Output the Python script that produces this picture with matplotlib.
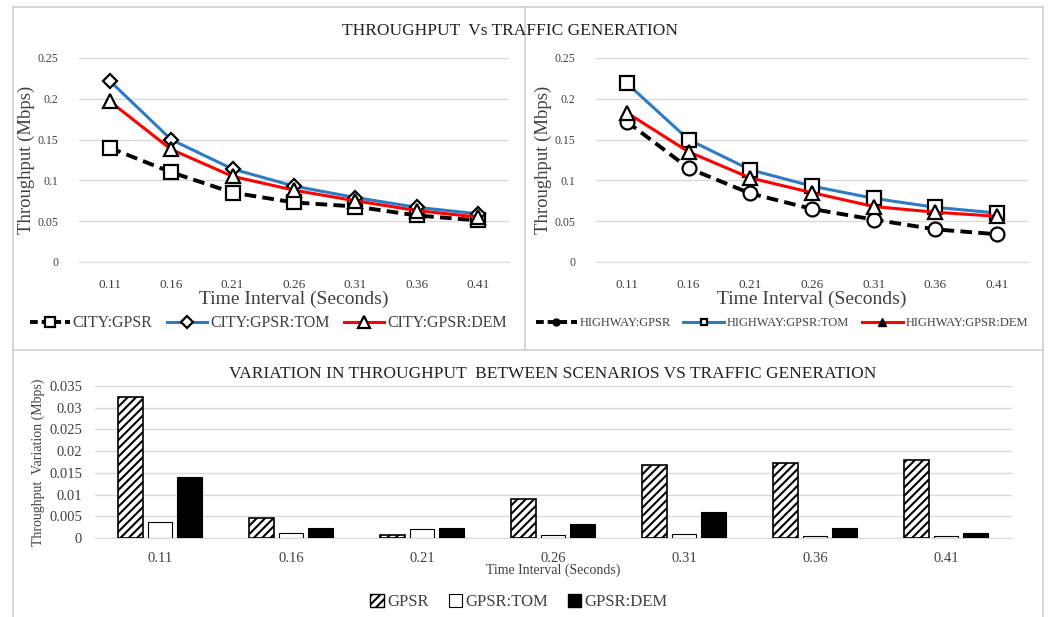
import matplotlib.pyplot as plt
import numpy as np
from matplotlib.lines import Line2D
from matplotlib.patches import Patch

plt.rcParams["font.family"] = ["Liberation Serif", "DejaVu Serif"]
plt.rcParams["hatch.linewidth"] = 1.5

intervals = ["0.11", "0.16", "0.21", "0.26", "0.31", "0.36", "0.41"]

city_gpsr = [0.140, 0.110, 0.085, 0.073, 0.068, 0.057, 0.051]
city_tom = [0.222, 0.150, 0.114, 0.093, 0.079, 0.067, 0.059]
city_dem = [0.197, 0.138, 0.105, 0.088, 0.075, 0.063, 0.055]

hw_gpsr = [0.172, 0.115, 0.084, 0.065, 0.052, 0.040, 0.034]
hw_tom = [0.219, 0.150, 0.113, 0.093, 0.078, 0.067, 0.060]
hw_dem = [0.183, 0.135, 0.103, 0.085, 0.068, 0.061, 0.056]

var_gpsr = [0.0325, 0.0045, 0.0008, 0.0090, 0.0169, 0.0172, 0.0179]
var_tom = [0.0037, 0.0012, 0.0020, 0.0007, 0.0010, 0.0004, 0.0004]
var_dem = [0.0140, 0.0024, 0.0022, 0.0032, 0.0060, 0.0024, 0.0012]

BLUE = "#2e7bc4"
RED = "#ff0000"
GRID = "#d9d9d9"
TXT = "#404040"

fig = plt.figure(figsize=(10.51, 6.17), dpi=100)

# panel frames
frame = dict(color="#d0d0d0", lw=1.2, transform=fig.transFigure)
fig.add_artist(Line2D([13 / 1051, 13 / 1051], [0, 1 - 7 / 617], **frame))
fig.add_artist(Line2D([1043 / 1051, 1043 / 1051], [0, 1 - 7 / 617], **frame))
fig.add_artist(Line2D([13 / 1051, 1043 / 1051], [1 - 7 / 617, 1 - 7 / 617], **frame))
fig.add_artist(Line2D([13 / 1051, 1043 / 1051], [1 - 350 / 617, 1 - 350 / 617], **frame))
fig.add_artist(Line2D([525 / 1051, 525 / 1051], [1 - 350 / 617, 1 - 7 / 617], **frame))

fig.text(510 / 1051, 1 - 31 / 617, "THROUGHPUT  Vs TRAFFIC GENERATION",
         ha="center", va="center", fontsize=12.5, color="#222222")

x = np.arange(len(intervals))


def style_line_axes(ax):
    ax.set_xlim(-0.5, len(intervals) - 0.5)
    ax.set_ylim(0, 0.25)
    ax.set_yticks([0, 0.05, 0.1, 0.15, 0.2, 0.25])
    ax.set_yticklabels(["0", "0.05", "0.1", "0.15", "0.2", "0.25"])
    ax.set_xticks(x)
    ax.set_xticklabels(intervals)
    ax.grid(axis="y", color=GRID, lw=1)
    ax.set_axisbelow(True)
    for s in ["top", "right", "left"]:
        ax.spines[s].set_visible(False)
    ax.spines["bottom"].set_color(GRID)
    ax.tick_params(axis="y", length=0, labelsize=8.5, colors=TXT, pad=15)
    ax.tick_params(axis="x", length=0, labelsize=9.5, colors=TXT, pad=12)
    ax.set_ylabel("Throughput (Mbps)", fontsize=13.5, color=TXT)
    ax.yaxis.set_label_coords(-0.102, 0.5)
    ax.set_xlabel("Time Interval (Seconds)", fontsize=14, color=TXT, labelpad=0)


mk = dict(markerfacecolor="white", markeredgecolor="black", markeredgewidth=1.6)

# city panel
ax1 = fig.add_axes([79 / 1051, 1 - 262 / 617, 430 / 1051, 204 / 617])
ax1.plot(x, city_gpsr, color="black", lw=2.8, ls=(0, (3, 1.6)), marker="s", ms=10, **mk, zorder=3)
ax1.plot(x, city_tom, color=BLUE, lw=2.2, marker="D", ms=7.5, **mk, zorder=4)
ax1.plot(x, city_dem, color=RED, lw=2.2, marker="^", ms=10, **mk, zorder=4)
style_line_axes(ax1)
h1 = [
    Line2D([], [], color="black", lw=2.8, ls=(0, (2, 1)), marker="s", ms=7, **mk),
    Line2D([], [], color=BLUE, lw=2.2, marker="D", ms=6, **mk),
    Line2D([], [], color=RED, lw=2.2, marker="^", ms=8, **mk),
]
ax1.legend(h1, ["CITY:GPSR", "CITY:GPSR:TOM", "CITY:GPSR:DEM"], loc="center",
           bbox_to_anchor=(0.44, -0.30), ncol=3, frameon=False, fontsize=11.5,
           handlelength=2.5, handletextpad=0.2, columnspacing=0.9,
           labelcolor=TXT)

# highway panel
ax2 = fig.add_axes([596 / 1051, 1 - 262 / 617, 432 / 1051, 204 / 617])
ax2.plot(x, hw_gpsr, color="black", lw=2.8, ls=(0, (3, 1.6)), marker="o", ms=10, **mk, zorder=3)
ax2.plot(x, hw_tom, color=BLUE, lw=2.2, marker="s", ms=10, **mk, zorder=4)
ax2.plot(x, hw_dem, color=RED, lw=2.2, marker="^", ms=10, **mk, zorder=4)
style_line_axes(ax2)
h2 = [
    Line2D([], [], color="black", lw=2.8, ls=(0, (2, 1)), marker="o", ms=5, markerfacecolor="black", markeredgecolor="black"),
    Line2D([], [], color=BLUE, lw=2.2, marker="s", ms=5, **mk),
    Line2D([], [], color=RED, lw=2.2, marker="^", ms=6, markerfacecolor="black", markeredgecolor="black"),
]
ax2.legend(h2, ["HIGHWAY:GPSR", "HIGHWAY:GPSR:TOM", "HIGHWAY:GPSR:DEM"], loc="center",
           bbox_to_anchor=(0.43, -0.30), ncol=3, frameon=False, fontsize=9,
           handlelength=3.3, handletextpad=0.2, columnspacing=1.0,
           labelcolor=TXT)

# variation bars
ax3 = fig.add_axes([94.5 / 1051, 1 - 538 / 617, 917 / 1051, 152 / 617])
w = 0.19
gap = 0.035
ax3.bar(x - (w + gap), var_gpsr, w, color="white", edgecolor="black", hatch="////", lw=1.2, zorder=3)
ax3.bar(x, var_tom, w, color="white", edgecolor="black", lw=0.8, zorder=3)
ax3.bar(x + (w + gap), var_dem, w, color="black", edgecolor="black", lw=0.8, zorder=3)
ax3.set_xlim(-0.5, len(intervals) - 0.5)
ax3.set_ylim(0, 0.035)
ax3.set_yticks([0, 0.005, 0.01, 0.015, 0.02, 0.025, 0.03, 0.035])
ax3.set_yticklabels(["0", "0.005", "0.01", "0.015", "0.02", "0.025", "0.03", "0.035"])
ax3.set_xticks(x)
ax3.set_xticklabels(intervals)
ax3.grid(axis="y", color=GRID, lw=1)
ax3.set_axisbelow(True)
for s in ["top", "right", "left"]:
    ax3.spines[s].set_visible(False)
ax3.spines["bottom"].set_color(GRID)
ax3.tick_params(axis="y", length=0, labelsize=10.5, colors=TXT, pad=9)
ax3.tick_params(axis="x", length=0, labelsize=10.5, colors=TXT, pad=10)
ax3.set_ylabel("Throughput  Variation (Mbps)", fontsize=10, color=TXT, labelpad=3)
ax3.set_xlabel("Time Interval (Seconds)", fontsize=10, color=TXT, labelpad=-1)
ax3.set_title("VARIATION IN THROUGHPUT  BETWEEN SCENARIOS VS TRAFFIC GENERATION",
              fontsize=12.5, color="#222222", pad=6)
h3 = [
    Patch(facecolor="white", edgecolor="black", hatch="////"),
    Patch(facecolor="white", edgecolor="black", lw=0.8),
    Patch(facecolor="black", edgecolor="black"),
]
ax3.legend(h3, ["GPSR", "GPSR:TOM", "GPSR:DEM"], loc="center",
           bbox_to_anchor=(0.463, -0.42), ncol=3, frameon=False, fontsize=12,
           handlelength=0.8, handleheight=0.8, handletextpad=0.2, columnspacing=1.2,
           labelcolor=TXT)

fig.savefig("out.png", dpi=100)
